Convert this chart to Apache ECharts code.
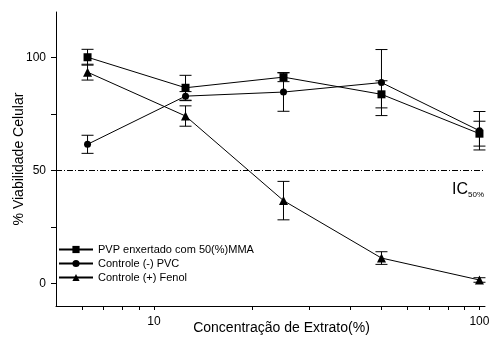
<!DOCTYPE html>
<html>
<head>
<meta charset="utf-8">
<script src="https://cdn.jsdelivr.net/npm/echarts@6/dist/echarts.min.js"></script>
<style>
  html, body { margin: 0; padding: 0; background: #fff; }
  #chart { width: 492px; height: 337px; }
</style>
</head>
<body>
<div id="chart"></div>
<script>
// concentracoes (%)
const conc = [6.25, 12.5, 25, 50, 100];

// % viabilidade celular e desvios
const pvpMean = [100, 86.5, 91.2, 83.6, 66.2];
const pvpErr = [3.5, 5.5, 2, 6, 5.5];
const pvcMean = [61.5, 82.8, 84.6, 88.8, 67.5];
const pvcErr = [4, 2, 8.5, 14.6, 8.5];
const fenolMean = [93.4, 74, 36.6, 11.2, 1.5];
const fenolErr = [3.5, 4.5, 8.5, 2.8, 1];

const names = ['PVP enxertado com 50(%)MMA', 'Controle (-) PVC', 'Controle (+) Fenol'];
const symbols = ['rect', 'circle', 'triangle'];
const symbolSizes = [8, 7, 9];

const xTicks = [6, 7, 8, 9, 10, 20, 30, 40, 50, 60, 70, 80, 90, 100];
const xLabels = [10, 100];
const yTicks = [0, 25, 50, 75, 100];
const yLabels = [0, 50, 100];
const ic50 = 50;

const font = 'Liberation Sans, Arial, sans-serif';
const myChart = echarts.init(document.getElementById('chart'));

function pairs(mean) {
  return conc.map((c, i) => [c, mean[i]]);
}
function errData(mean, err) {
  return conc.map((c, i) => [c, mean[i] - err[i], mean[i] + err[i]]);
}

// barra de erro com tampas
function renderErr(params, api) {
  const lo = api.coord([api.value(0), api.value(1)]);
  const hi = api.coord([api.value(0), api.value(2)]);
  const w = 6;
  const style = { stroke: '#000', lineWidth: 1, fill: null };
  return {
    type: 'group',
    children: [
      { type: 'line', shape: { x1: lo[0], y1: lo[1], x2: hi[0], y2: hi[1] }, style },
      { type: 'line', shape: { x1: lo[0] - w, y1: lo[1], x2: lo[0] + w, y2: lo[1] }, style },
      { type: 'line', shape: { x1: hi[0] - w, y1: hi[1], x2: hi[0] + w, y2: hi[1] }, style }
    ]
  };
}

const means = [pvpMean, pvcMean, fenolMean];
const errs = [pvpErr, pvcErr, fenolErr];
const series = [];

means.forEach((m, k) => {
  series.push({
    type: 'custom',
    renderItem: renderErr,
    data: errData(m, errs[k]),
    encode: { x: 0, y: [1, 2] },
    silent: true,
    z: 2
  });
});

means.forEach((m, k) => {
  const s = {
    name: names[k],
    type: 'line',
    data: pairs(m),
    symbol: symbols[k],
    symbolSize: symbolSizes[k],
    showAllSymbol: true,
    lineStyle: { color: '#000', width: 1 },
    itemStyle: { color: '#000', borderWidth: 0 },
    z: 3
  };
  if (k === 0) {
    s.markLine = {
      silent: true,
      symbol: 'none',
      label: { show: false },
      lineStyle: { color: '#000', width: 1, type: [6, 2, 1, 2] },
      data: [{ yAxis: ic50 }]
    };
  }
  series.push(s);
});

const option = {
  animation: false,
  backgroundColor: '#fff',
  textStyle: { fontFamily: font, color: '#000' },
  grid: { left: 56, right: 7, top: 12, bottom: 31, outerBoundsMode: 'none' },
  legend: {
    data: names,
    orient: 'vertical',
    left: 58,
    top: 244,
    padding: 0,
    itemWidth: 34,
    itemHeight: 9,
    itemGap: 3,
    textStyle: { fontSize: 11, color: '#000', fontFamily: font }
  },
  xAxis: {
    type: 'log',
    logBase: 10,
    min: 5,
    max: 104,
    name: 'Concentração de Extrato(%)',
    nameLocation: 'middle',
    nameGap: 15,
    nameMoveOverlap: false,
    nameTextStyle: { fontSize: 14, color: '#000', padding: [0, 0, 0, 22] },
    axisLine: { onZero: false, lineStyle: { color: '#000', width: 1 } },
    axisTick: { show: true, length: 4, customValues: xTicks, lineStyle: { color: '#000' } },
    axisLabel: { customValues: xLabels, fontSize: 12, color: '#000', margin: 10 },
    splitLine: { show: false },
    minorTick: { show: false }
  },
  yAxis: {
    type: 'value',
    min: -10,
    max: 120,
    name: '% Viabilidade Celular',
    nameLocation: 'middle',
    nameGap: 30,
    nameMoveOverlap: false,
    nameTextStyle: { fontSize: 14, color: '#000' },
    axisLine: { show: true, onZero: false, lineStyle: { color: '#000', width: 1 } },
    axisTick: { show: true, length: 5, customValues: yTicks, lineStyle: { color: '#000' } },
    axisLabel: { customValues: yLabels, fontSize: 12, color: '#000', margin: 10 },
    splitLine: { show: false }
  },
  graphic: [{
    type: 'text',
    left: 452,
    top: 182,
    style: {
      text: '{a|IC}{b|50%}',
      rich: {
        a: { fontSize: 16, fontFamily: font, fill: '#000' },
        b: { fontSize: 8, fontFamily: font, fill: '#000', padding: [10, 0, 0, 0] }
      }
    }
  }],
  series
};

myChart.setOption(option);
window.addEventListener('resize', () => {
  myChart.resize();
});
</script>
</body>
</html>
